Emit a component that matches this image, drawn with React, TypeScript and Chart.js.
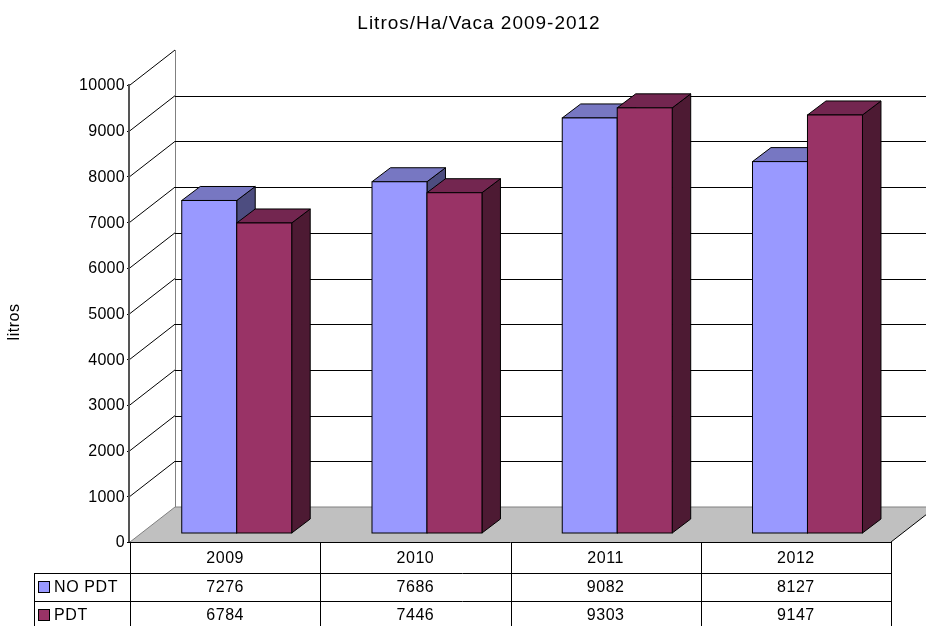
import React, { useEffect, useRef } from "react";
import { Chart, registerables } from "chart.js";

Chart.register(...registerables);

const title = "Litros/Ha/Vaca 2009-2012";
const yAxisTitle = "litros";
const categories = ["2009", "2010", "2011", "2012"];
const seriesNames = ["NO PDT", "PDT"];
const noPdt = [7276, 7686, 9082, 8127];
const pdt = [6784, 7446, 9303, 9147];
const yTicks = [0, 1000, 2000, 3000, 4000, 5000, 6000, 7000, 8000, 9000, 10000];

const FONT = '"Liberation Sans", Arial, sans-serif';
const faceColors = [
  { front: "#9999FF", top: "#7777C2", side: "#4D4D80" },
  { front: "#993366", top: "#732650", side: "#4D1A33" },
];

const DEPTH = { x: 45, y: -35 };
const BAR_OFF = { x: 11.6, y: -9 };
const BAR_DEPTH = { x: 18.5, y: -14 };

function setSpacing(ctx: any, s: string) {
  try {
    ctx.letterSpacing = s;
  } catch (e) {}
}

const threeD = {
  id: "threeD",
  beforeDatasetsDraw(chart: any) {
    const ctx = chart.ctx;
    const ca = chart.chartArea;
    const ys = chart.scales.y;
    const L = ca.left, R = ca.right;
    const y0 = ys.getPixelForValue(0);
    const yTop = ys.getPixelForValue(10000);
    ctx.save();
    ctx.fillStyle = "#FFFFFF";
    ctx.fillRect(L + DEPTH.x, yTop + DEPTH.y, R - L, y0 - yTop);
    ctx.beginPath();
    ctx.moveTo(L, y0);
    ctx.lineTo(R, y0);
    ctx.lineTo(R + DEPTH.x, y0 + DEPTH.y);
    ctx.lineTo(L + DEPTH.x, y0 + DEPTH.y);
    ctx.closePath();
    ctx.fillStyle = "#C0C0C0";
    ctx.fill();
    ctx.lineWidth = 1;
    ctx.strokeStyle = "#808080";
    ctx.beginPath();
    ctx.moveTo(L, y0);
    ctx.lineTo(L + DEPTH.x, y0 + DEPTH.y);
    ctx.lineTo(R + DEPTH.x, y0 + DEPTH.y);
    ctx.stroke();
    ctx.strokeStyle = "#000000";
    ctx.beginPath();
    ctx.moveTo(R, y0);
    ctx.lineTo(R + DEPTH.x, y0 + DEPTH.y);
    ctx.stroke();
    ctx.strokeStyle = "#808080";
    ctx.beginPath();
    ctx.moveTo(L + DEPTH.x + 0.5, yTop + DEPTH.y);
    ctx.lineTo(L + DEPTH.x + 0.5, y0 + DEPTH.y);
    ctx.stroke();
    for (const v of yTicks) {
      const py = ys.getPixelForValue(v);
      ctx.strokeStyle = "#000000";
      if (v > 0 && v < 10000) {
        const gy = Math.round(py + DEPTH.y) + 0.5;
        ctx.beginPath();
        ctx.moveTo(L + DEPTH.x, gy);
        ctx.lineTo(R + DEPTH.x, gy);
        ctx.stroke();
      }
      if (v > 0) {
        ctx.beginPath();
        ctx.moveTo(L, py);
        ctx.lineTo(L + DEPTH.x, py + DEPTH.y);
        ctx.stroke();
      }
      ctx.beginPath();
      ctx.moveTo(L - 3, Math.round(py) + 0.5);
      ctx.lineTo(L, Math.round(py) + 0.5);
      ctx.stroke();
      ctx.fillStyle = "#000000";
      ctx.font = "16px " + FONT;
      setSpacing(ctx, "0.3px");
      ctx.textAlign = "right";
      ctx.textBaseline = "middle";
      ctx.fillText(String(v), L - 5, py + 1);
    }
    ctx.strokeStyle = "#555555";
    ctx.lineWidth = 2;
    ctx.beginPath();
    ctx.moveTo(L - 1, yTop - 1);
    ctx.lineTo(L - 1, y0);
    ctx.stroke();
    ctx.restore();
  },
  afterDatasetsDraw(chart: any) {
    const ctx = chart.ctx;
    const ca = chart.chartArea;
    const xs = chart.scales.x;
    ctx.save();
    ctx.lineWidth = 1;
    ctx.strokeStyle = "#000000";
    ctx.lineJoin = "miter";
    for (let j = 0; j < categories.length; j++) {
      for (let d = 0; d < chart.data.datasets.length; d++) {
        const el: any = chart.getDatasetMeta(d).data[j];
        const c = faceColors[d];
        const l = el.x - el.width / 2 + BAR_OFF.x;
        const r = el.x + el.width / 2 + BAR_OFF.x;
        const t = el.y + BAR_OFF.y;
        const b = el.base + BAR_OFF.y;
        ctx.beginPath();
        ctx.moveTo(r, t);
        ctx.lineTo(r + BAR_DEPTH.x, t + BAR_DEPTH.y);
        ctx.lineTo(r + BAR_DEPTH.x, b + BAR_DEPTH.y);
        ctx.lineTo(r, b);
        ctx.closePath();
        ctx.fillStyle = c.side;
        ctx.fill();
        ctx.stroke();
        ctx.beginPath();
        ctx.moveTo(l, t);
        ctx.lineTo(r, t);
        ctx.lineTo(r + BAR_DEPTH.x, t + BAR_DEPTH.y);
        ctx.lineTo(l + BAR_DEPTH.x, t + BAR_DEPTH.y);
        ctx.closePath();
        ctx.fillStyle = c.top;
        ctx.fill();
        ctx.stroke();
        ctx.fillStyle = c.front;
        ctx.fillRect(l, t, r - l, b - t);
        ctx.strokeRect(l, t, r - l, b - t);
      }
    }
    const y0 = ca.bottom;
    const rowH = [31, 28, 28];
    const r1 = y0 + rowH[0];
    const r2 = r1 + rowH[1];
    const r3 = r2 + rowH[2];
    const tableLeft = 34;
    const colEdges: number[] = [];
    for (let j = 0; j < categories.length; j++) {
      const w = xs.width / categories.length;
      colEdges.push(xs.getPixelForValue(j) - w / 2);
    }
    colEdges.push(ca.right);
    ctx.strokeStyle = "#000000";
    ctx.beginPath();
    ctx.moveTo(ca.left, Math.round(y0) + 0.5);
    ctx.lineTo(ca.right, Math.round(y0) + 0.5);
    ctx.moveTo(tableLeft, Math.round(r1) + 0.5);
    ctx.lineTo(ca.right, Math.round(r1) + 0.5);
    ctx.moveTo(tableLeft, Math.round(r2) + 0.5);
    ctx.lineTo(ca.right, Math.round(r2) + 0.5);
    for (const e of colEdges) {
      ctx.moveTo(Math.round(e) + 0.5, y0);
      ctx.lineTo(Math.round(e) + 0.5, r3 + 5);
    }
    ctx.moveTo(tableLeft + 0.5, r1);
    ctx.lineTo(tableLeft + 0.5, r3 + 5);
    ctx.stroke();
    ctx.fillStyle = "#000000";
    ctx.font = "16px " + FONT;
    setSpacing(ctx, "0.6px");
    ctx.textBaseline = "middle";
    ctx.textAlign = "center";
    const series = [noPdt, pdt];
    for (let j = 0; j < categories.length; j++) {
      const cx = xs.getPixelForValue(j);
      ctx.fillText(categories[j], cx, (y0 + r1) / 2 + 1);
      ctx.fillText(String(series[0][j]), cx, (r1 + r2) / 2 + 1);
      ctx.fillText(String(series[1][j]), cx, (r2 + r3) / 2 + 1);
    }
    const rowsMid = [(r1 + r2) / 2, (r2 + r3) / 2];
    for (let d = 0; d < seriesNames.length; d++) {
      const my = rowsMid[d];
      ctx.fillStyle = faceColors[d].front;
      ctx.fillRect(38.5, Math.round(my) - 5.5, 11, 11);
      ctx.strokeStyle = "#000000";
      ctx.strokeRect(38.5, Math.round(my) - 5.5, 11, 11);
      ctx.fillStyle = "#000000";
      ctx.textAlign = "left";
      ctx.fillText(seriesNames[d], 54, my + 1);
    }
    ctx.font = "19px " + FONT;
    setSpacing(ctx, "1px");
    ctx.textAlign = "center";
    ctx.textBaseline = "middle";
    ctx.fillText(title, 479, 24);
    ctx.save();
    ctx.translate(15, 322);
    ctx.rotate(-Math.PI / 2);
    ctx.font = "16px " + FONT;
    setSpacing(ctx, "0.5px");
    ctx.fillText(yAxisTitle, 0, 0);
    ctx.restore();
    ctx.restore();
  },
};

export default function App() {
  const ref = useRef<HTMLCanvasElement | null>(null);
  useEffect(() => {
    if (!ref.current) return;
    const chart = new Chart(ref.current, {
      type: "bar",
      data: {
        labels: categories,
        datasets: [
          { label: seriesNames[0], data: noPdt, backgroundColor: "rgba(0,0,0,0)", borderWidth: 0 },
          { label: seriesNames[1], data: pdt, backgroundColor: "rgba(0,0,0,0)", borderWidth: 0 },
        ],
      },
      options: {
        responsive: false,
        animation: false,
        events: [],
        datasets: { bar: { categoryPercentage: 0.578, barPercentage: 1 } },
        layout: { padding: { left: 130, right: 35, top: 85, bottom: 84 } },
        scales: {
          x: { display: false, offset: true },
          y: { display: false, min: 0, max: 10000 },
        },
        plugins: { legend: { display: false }, title: { display: false }, tooltip: { enabled: false } },
      },
      plugins: [threeD],
    });
    return () => chart.destroy();
  }, []);
  return (
    <div style={{ position: "absolute", left: 0, top: 0, width: 926, height: 626, background: "#fff" }}>
      <canvas ref={ref} width={926} height={626} style={{ display: "block" }} />
    </div>
  );
}
